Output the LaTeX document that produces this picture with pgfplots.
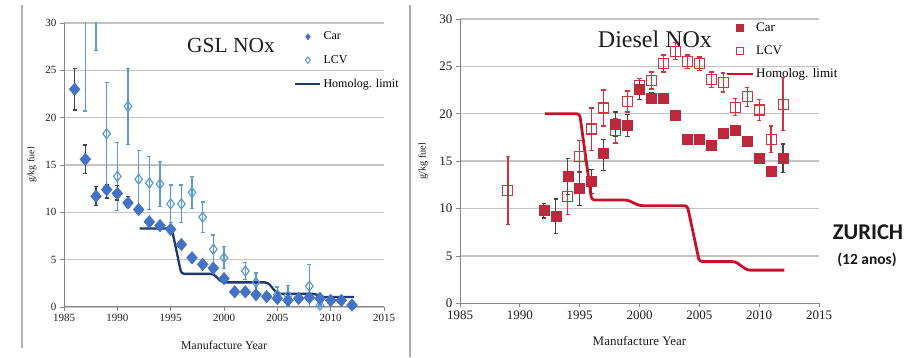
\documentclass[border=0pt]{standalone}
\usepackage{pgfplots}
\pgfplotsset{compat=1.18}
\usepackage{fontspec}
\setmainfont{Liberation Serif}
\newfontfamily\carlito{Carlito}
\definecolor{carblue}{RGB}{68,114,196}
\definecolor{lcvblue}{RGB}{91,155,213}
\definecolor{navyl}{RGB}{31,56,110}
\definecolor{carred}{RGB}{190,40,60}
\definecolor{lcvred}{RGB}{212,50,60}
\definecolor{limred}{RGB}{200,16,40}
\definecolor{errgray}{RGB}{70,70,70}
\definecolor{gridgray}{RGB}{195,195,195}
\definecolor{axgray}{RGB}{134,134,134}

\pgfplotstableread{
x y ep em
1986 23.0 2.2 2.2
1987 15.6 1.5 1.5
1988 11.7 1.0 1.0
1989 12.4 0.5 0.9
1990 12.0 0.8 0.7
1991 11.0 0.7 0.5
1992 10.3 0 0
1993 9.0 0 0
1994 8.6 0 0
1995 8.2 0 0
1996 6.6 0 0
1997 5.2 0 0
1998 4.5 0 0
1999 4.1 0 0
2000 3.0 0 0
2001 1.6 0 0
2002 1.6 0 0
2003 1.3 0 0
2004 1.1 0 0
2005 0.9 0 0
2006 0.7 0 0
2007 0.9 0 0
2008 1.0 0 0
2009 0.9 0 0
2010 0.7 0 0
2011 0.7 0 0
2012 0.2 0 0
}\gslcar
\pgfplotstableread{
x y ep em
1987 32.0 11.3 11.3
1988 33.0 5.9 5.9
1989 18.3 5.4 5.4
1990 13.8 3.6 3.6
1991 21.2 4.0 4.0
1992 13.5 3.0 3.0
1993 13.1 2.8 2.8
1994 13.0 2.4 2.4
1995 10.9 2.0 2.0
1996 10.9 2.0 2.0
1997 12.1 1.7 1.7
1998 9.5 1.6 1.6
1999 6.1 1.5 1.5
2000 5.2 1.2 1.1
2002 3.8 0.9 0.9
2003 2.6 1.0 1.0
2005 1.3 0.8 0.8
2006 1.2 1.1 1.1
2008 2.2 2.3 2.2
2009 0.2 0 0
}\gsllcv
\pgfplotstableread{
x y
1992.1 8.3
1995.1 8.3
1996.0 3.5
1999.0 3.5
1999.8 2.6
2004.1 2.6
2005.0 1.4
2008.5 1.4
2009.2 1.05
2012.2 1.05
}\gsllim
\pgfplotstableread{
x y ep em
1992 9.8 0.7 0.8
1993 9.2 1.8 1.8
1994 13.4 1.9 1.9
1995 12.1 1.8 1.8
1996 12.9 1.2 1.3
1997 15.8 1.5 1.8
1998 18.9 1.3 1.3
1999 18.8 1.1 1.2
2000 22.6 0.9 1.1
2001 21.6 0.6 0.5
2002 21.6 0.4 0.4
2003 19.9 0.3 0.3
2004 17.3 0 0
2005 17.3 0 0
2006 16.7 0 0
2007 17.9 0 0
2008 18.3 0 0
2009 17.1 0.4 0.4
2010 15.3 0.5 0.5
2011 13.9 0.5 0.5
2012 15.3 1.5 1.5
}\dslcar
\pgfplotstableread{
x y ep em
1989 11.9 3.6 3.6
1994 11.3 2.0 1.9
1995 15.5 1.7 1.7
1996 18.4 2.2 2.3
1997 20.6 1.9 1.9
1998 18.2 1.3 1.3
1999 21.3 1.1 1.1
2000 23.0 0.7 0.7
2001 23.5 0.9 0.9
2002 25.3 0.9 0.9
2003 26.6 0.9 0.9
2004 25.5 0.7 0.7
2005 25.3 0.7 0.7
2006 23.6 0.8 0.8
2007 23.3 1.0 1.0
2008 20.7 0.9 0.9
2009 21.8 1.0 1.0
2010 20.4 1.1 1.1
2011 17.3 1.4 1.4
2012 21.0 2.8 2.8
}\dsllcv
\pgfplotstableread{
x y
1992.1 20
1995.0 20
1996.0 10.9
1999.0 10.9
2000.0 10.3
2004.0 10.3
2005.0 4.4
2008.0 4.4
2009.0 3.5
2012.1 3.5
}\dsllim

\pgfplotsset{
  common/.style={
    scale only axis,
    anchor=south west,
    xmin=1985, xmax=2015, ymin=0, ymax=30,
    xtick={1985,1990,...,2015}, ytick={0,5,...,30},
    axis lines*=left,
    axis line style={draw=axgray, line width=1pt},
    tick style={draw=axgray, line width=0.8pt},
    major tick length=4pt,
    tick align=outside,
    ymajorgrids,
    grid style={draw=gridgray, line width=1.3pt},
    /pgf/number format/1000 sep={},
    /pgf/number format/assume math mode=true,
    tick label style={color=black!88},
    xlabel={Manufacture Year},
    ylabel={g/kg fuel},
    label style={color=black!88},
    legend cell align=left,
  },
  legmarkL/.style={legend image code/.code={\draw[##1,only marks] plot coordinates {(12.5pt,0pt)};}},
  leglineL/.style={legend image code/.code={\draw[##1] (0pt,0pt) -- (25pt,0pt);}},
  legmarkR/.style={legend image code/.code={\draw[##1,only marks] plot coordinates {(13pt,0pt)};}},
  leglineR/.style={legend image code/.code={\draw[##1] (0pt,0pt) -- (26pt,0pt);}},
}

\begin{document}
\begin{tikzpicture}
\useasboundingbox[fill=white] (0pt,0pt) rectangle (909pt,358pt);
\draw[color=gray!60, line width=1.3pt] (22pt,353pt) -- (22pt,10pt);
\draw[color=gray!65, line width=1.6pt] (410pt,353pt) -- (410pt,1pt);

\begin{axis}[common,
  at={(64pt,51pt)}, width=320pt, height=284pt,
  tick label style={font=\fontsize{11}{11}\selectfont},
  xlabel style={at={(axis description cs:0.5,-0.134)}, anchor=center, font=\fontsize{12}{12}\selectfont},
  ylabel style={at={(axis description cs:-0.1,0.5)}, anchor=center, font=\fontsize{10}{10}\selectfont},
  legend style={at={(axis description cs:0.719,0.976)}, anchor=north west, draw=none, fill=none,
    inner sep=0pt, font=\fontsize{12}{12}\selectfont, row sep=10pt},
]
\addplot[forget plot, only marks, mark=diamond, mark size=5pt, mark options={fill=white, draw=lcvblue, line width=1.2pt},
  error bars/.cd, y dir=both, y explicit,
  error bar style={color=lcvblue, line width=1.3pt},
  error mark options={rotate=90, mark size=2pt, line width=1.3pt, color=lcvblue}]
  table[x=x, y=y, y error plus=ep, y error minus=em] {\gsllcv};
\addplot[forget plot, only marks, mark=diamond*, mark size=6.3pt, color=carblue, mark options={xscale=1.15},
  error bars/.cd, y dir=both, y explicit,
  error bar style={color=errgray, line width=1.3pt},
  error mark options={rotate=90, mark size=2pt, line width=1.3pt, color=errgray}]
  table[x=x, y=y, y error plus=ep, y error minus=em] {\gslcar};
\addplot[forget plot, no marks, color=navyl, line width=2.3pt, rounded corners=3pt] table[x=x, y=y] {\gsllim};
\addlegendimage{only marks, mark=diamond*, mark size=3.2pt, color=carblue, legmarkL}
\addlegendentry{Car}
\addlegendimage{only marks, mark=diamond, mark size=3.2pt, mark options={fill=white, draw=lcvblue, line width=1pt}, legmarkL}
\addlegendentry{LCV}
\addlegendimage{color=navyl, line width=2.3pt, leglineL}
\addlegendentry{Homolog. limit}
\node[font=\fontsize{21.5}{22}\selectfont, color=black!88] at (axis description cs:0.522,0.922) {GSL NOx};
\end{axis}

\begin{axis}[common,
  at={(460pt,54.7pt)}, width=359pt, height=284.3pt,
  tick label style={font=\fontsize{13}{13}\selectfont},
  xlabel style={at={(axis description cs:0.5,-0.134)}, anchor=center, font=\fontsize{13}{13}\selectfont},
  ylabel style={at={(axis description cs:-0.103,0.5)}, anchor=center, font=\fontsize{10.3}{10.3}\selectfont},
  legend style={at={(axis description cs:0.7385,0.995)}, anchor=north west, draw=none, fill=none,
    inner sep=0pt, font=\fontsize{13}{13}\selectfont, row sep=9pt},
]
\addplot[forget plot, only marks, mark=square, mark size=5pt, mark options={fill=white, draw=lcvred, line width=1.2pt},
  error bars/.cd, y dir=both, y explicit,
  error bar style={color=lcvred, line width=1.3pt},
  error mark options={rotate=90, mark size=2.2pt, line width=1.3pt, color=lcvred}]
  table[x=x, y=y, y error plus=ep, y error minus=em] {\dsllcv};
\addplot[forget plot, only marks, mark=square*, mark size=5pt, color=carred,
  error bars/.cd, y dir=both, y explicit,
  error bar style={color=errgray, line width=1.3pt},
  error mark options={rotate=90, mark size=2.2pt, line width=1.3pt, color=errgray}]
  table[x=x, y=y, y error plus=ep, y error minus=em] {\dslcar};
\addplot[forget plot, no marks, color=limred, line width=2.8pt, rounded corners=3pt] table[x=x, y=y] {\dsllim};
\addlegendimage{only marks, mark=square*, mark size=3.3pt, color=carred, legmarkR}
\addlegendentry{Car}
\addlegendimage{only marks, mark=square, mark size=3.3pt, mark options={fill=white, draw=lcvred, line width=1pt}, legmarkR}
\addlegendentry{LCV}
\addlegendimage{color=limred, line width=2.8pt, leglineR}
\addlegendentry{Homolog. limit}
\node[font=\fontsize{24}{24}\selectfont, color=black!88] at (axis description cs:0.543,0.93) {Diesel NOx};
\end{axis}

\node[font=\carlito\bfseries\fontsize{22.5}{22.5}\selectfont, color=black!90] at (868pt,126pt) {ZURICH};
\node[font=\carlito\bfseries\fontsize{15.5}{15.5}\selectfont, color=black!90] at (867pt,98pt) {(12 anos)};
\end{tikzpicture}
\end{document}
